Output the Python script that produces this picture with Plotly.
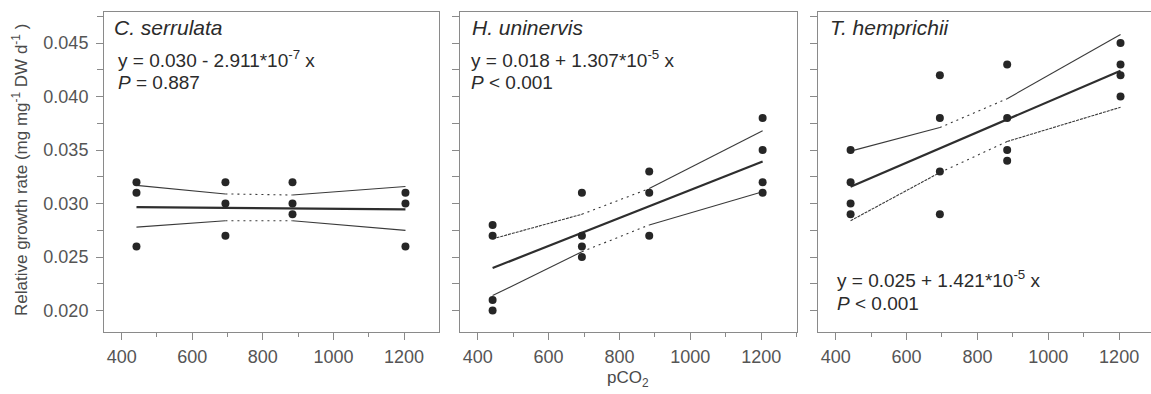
import math
import plotly.graph_objects as go

# ---- data -------------------------------------------------------------
pco2_levels = [442, 694, 884, 1204]
species = ["C. serrulata", "H. uninervis", "T. hemprichii"]

# replicate relative growth rates at each pCO2 level
rgr_serrulata = [[0.032, 0.031, 0.026], [0.032, 0.030, 0.027],
                 [0.032, 0.030, 0.029], [0.031, 0.030, 0.026]]
rgr_uninervis = [[0.028, 0.027, 0.021, 0.020], [0.031, 0.027, 0.026, 0.025],
                 [0.033, 0.031, 0.027], [0.038, 0.035, 0.032, 0.031]]
rgr_hemprichii = [[0.035, 0.032, 0.030, 0.029], [0.042, 0.038, 0.033, 0.029],
                  [0.043, 0.038, 0.035, 0.034], [0.045, 0.043, 0.042, 0.040]]

# linear regression y = a + b x
intercepts = [0.0298, 0.0182, 0.0253]
slopes = [-2.911e-7, 1.307e-5, 1.421e-5]
p_values = ["= 0.887", "< 0.001", "< 0.001"]

# 95% confidence limits at each pCO2 level
ci_upper = [[0.0317, 0.0309, 0.0308, 0.0316],
            [0.0267, 0.0290, 0.0314, 0.0368],
            [0.0349, 0.0371, 0.0398, 0.0458]]
ci_lower = [[0.0278, 0.0284, 0.0284, 0.0275],
            [0.0214, 0.0255, 0.0280, 0.0311],
            [0.0284, 0.0329, 0.0358, 0.0390]]

y_ticks = [0.020, 0.025, 0.030, 0.035, 0.040, 0.045]
x_ticks = [400, 600, 800, 1000, 1200]

# ---- styling ----------------------------------------------------------
W, H = 1151, 394
FONT = "Liberation Sans, Arial, Helvetica, sans-serif"
AXIS_GRAY = "#8a8a8a"
TEXT_GRAY = "#4a4a4a"
DOT = "#262626"

SOLID = "solid"
DENSE = "3px,1px"
SPARSE = "2px,4px"
upper_styles = [[SOLID, SPARSE, SOLID], [DENSE, SPARSE, SOLID], [SOLID, SPARSE, SOLID]]
lower_styles = [[SOLID, SPARSE, SOLID], [SOLID, SPARSE, SOLID], [DENSE, SPARSE, DENSE]]

# plot-area pixel boxes (left, right) and shared top/bottom
panels_px = [(104, 439), (460, 797), (818, 1151)]
top_px, bottom_px = 12, 332
x_ranges = [[350, 1299], [350, 1301], [350, 1290]]
y_range = [0.018, 0.0479]


def px(x):
    return x / W


def py(y):
    return 1 - y / H


groups = [rgr_serrulata, rgr_uninervis, rgr_hemprichii]

fig = go.Figure()

for i in range(3):
    xa = "x" if i == 0 else f"x{i + 1}"
    ya = "y" if i == 0 else f"y{i + 1}"

    # confidence limits drawn segment by segment between pCO2 levels
    for band, styles in ((ci_upper[i], upper_styles[i]), (ci_lower[i], lower_styles[i])):
        for s in range(3):
            fig.add_trace(go.Scatter(
                x=pco2_levels[s:s + 2], y=band[s:s + 2], mode="lines",
                line=dict(color="#3a3a3a", width=1.1, dash=styles[s]),
                xaxis=xa, yaxis=ya, showlegend=False, hoverinfo="skip"))

    # regression line across the sampled pCO2 range
    xs = [pco2_levels[0], pco2_levels[-1]]
    fig.add_trace(go.Scatter(
        x=xs, y=[intercepts[i] + slopes[i] * v for v in xs], mode="lines",
        line=dict(color="#2e2e2e", width=2.2),
        xaxis=xa, yaxis=ya, showlegend=False))

    # replicate points
    px_vals, py_vals = [], []
    for lvl, reps in zip(pco2_levels, groups[i]):
        px_vals += [lvl] * len(reps)
        py_vals += reps
    fig.add_trace(go.Scatter(
        x=px_vals, y=py_vals, mode="markers",
        marker=dict(color=DOT, size=8, line=dict(width=0)),
        xaxis=xa, yaxis=ya, showlegend=False))

layout = dict(
    width=W, height=H,
    margin=dict(l=0, r=0, t=0, b=0),
    paper_bgcolor="white", plot_bgcolor="white",
    font=dict(family=FONT, color=TEXT_GRAY, size=17),
    template="none",
    showlegend=False,
)

for i, (l, r) in enumerate(panels_px):
    xk = "xaxis" if i == 0 else f"xaxis{i + 1}"
    yk = "yaxis" if i == 0 else f"yaxis{i + 1}"
    ya = "y" if i == 0 else f"y{i + 1}"
    xa = "x" if i == 0 else f"x{i + 1}"
    layout[xk] = dict(
        domain=[px(l), px(r)], range=x_ranges[i], anchor=ya,
        tickvals=x_ticks, ticks="outside", ticklen=7, tickwidth=1,
        tickcolor=AXIS_GRAY, showline=True, linecolor=AXIS_GRAY, linewidth=1,
        mirror=True, showgrid=False, zeroline=False, automargin=False,
        ticklabelstandoff=1,
        tickfont=dict(size=18, color="#555555"),
        minor=dict(dtick=100, tick0=0, ticks="outside", ticklen=4,
                   tickcolor=AXIS_GRAY, showgrid=False),
    )
    if i == 0:
        layout[yk] = dict(
            tickvals=y_ticks, tickformat=".3f", ticklabelstandoff=4,
            tickfont=dict(size=18, color="#555555"), ticks="outside",
            ticklen=7, tickwidth=1, tickcolor=AXIS_GRAY,
            minor=dict(dtick=0.0025, tick0=0.0, ticks="outside", ticklen=6,
                       tickcolor=AXIS_GRAY, showgrid=False),
        )
    else:
        # unlabelled panels: tick marks only, every 0.0025
        layout[yk] = dict(
            tickvals=[], showticklabels=False, ticks="",
            minor=dict(dtick=0.0025, tick0=0.0, ticks="outside", ticklen=7,
                       tickcolor=AXIS_GRAY, showgrid=False),
        )
    layout[yk].update(
        domain=[py(bottom_px), py(top_px)], range=y_range, anchor=xa,
        showline=True, linecolor=AXIS_GRAY, linewidth=1, mirror=(i < 2),
        showgrid=False, zeroline=False, automargin=False,
    )

fig.update_layout(**layout)


def equation(a, b):
    sign = "-" if b < 0 else "+"
    exp = math.floor(math.log10(abs(b)))
    mant = abs(b) / 10 ** exp
    return f"y = {a:.3f} {sign} {mant:.3f}*10<sup>{exp}</sup> x"


annotations = []
title_pos = [(112, 28), (470, 28), (828, 28)]
eq_pos = [(116, 59), (469, 59), (835, 279)]
p_pos = [(116, 82), (469, 82), (835, 303)]
for i in range(3):
    annotations.append(dict(
        text=f"<i>{species[i]}</i>", x=px(title_pos[i][0]), y=py(title_pos[i][1]),
        xref="paper", yref="paper", xanchor="left", yanchor="middle",
        showarrow=False, font=dict(size=21, color="#2b2b2b")))
    annotations.append(dict(
        text=equation(intercepts[i], slopes[i]), x=px(eq_pos[i][0]), y=py(eq_pos[i][1]),
        xref="paper", yref="paper", xanchor="left", yanchor="middle",
        showarrow=False, font=dict(size=19, color="#2b2b2b")))
    annotations.append(dict(
        text=f"<i>P</i> {p_values[i]}", x=px(p_pos[i][0]), y=py(p_pos[i][1]),
        xref="paper", yref="paper", xanchor="left", yanchor="middle",
        showarrow=False, font=dict(size=19, color="#2b2b2b")))

annotations.append(dict(
    text="Relative growth rate (mg mg<sup>-1</sup> DW d<sup>-1</sup> )",
    x=px(20), y=py(170), xref="paper", yref="paper", textangle=-90,
    xanchor="center", yanchor="middle", showarrow=False,
    font=dict(size=17, color=TEXT_GRAY)))
annotations.append(dict(
    text="pCO<sub>2</sub>", x=px(628), y=py(379), xref="paper", yref="paper",
    xanchor="center", yanchor="middle", showarrow=False,
    font=dict(size=17, color=TEXT_GRAY)))

fig.update_layout(annotations=annotations)

fig.write_html("out.html")
